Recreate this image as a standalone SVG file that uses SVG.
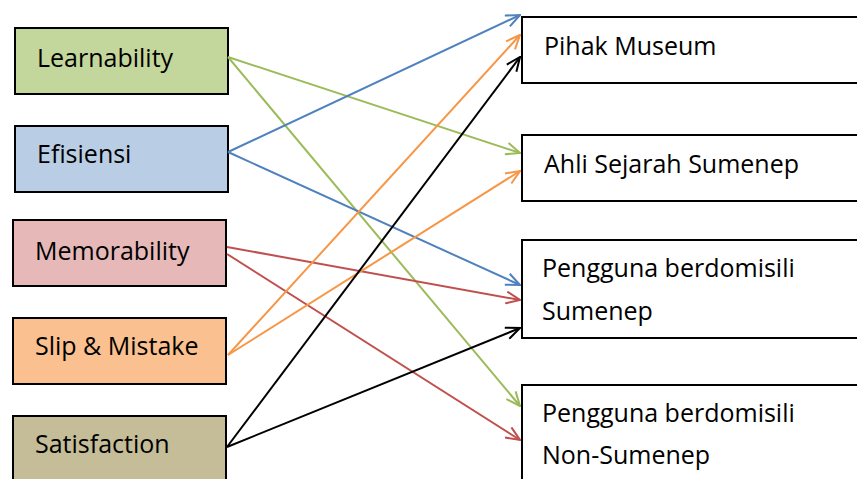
<svg xmlns="http://www.w3.org/2000/svg" width="857" height="479" viewBox="0 0 857 479">
<style>
.box{stroke:#000;stroke-width:2}
.t{font-family:"Open Sans","Noto Sans",sans-serif;font-size:25px;fill:#000}
.c{fill:none;stroke-width:2}
</style>
<defs>
<marker id="ag" markerUnits="userSpaceOnUse" viewBox="0 0 16 14" refX="15" refY="7" markerWidth="16" markerHeight="14" orient="auto"><path d="M1,1 L15,7 L1,13" fill="none" stroke="#9BBB59" stroke-width="2"/></marker>
<marker id="ab" markerUnits="userSpaceOnUse" viewBox="0 0 16 14" refX="15" refY="7" markerWidth="16" markerHeight="14" orient="auto"><path d="M1,1 L15,7 L1,13" fill="none" stroke="#4F81BD" stroke-width="2"/></marker>
<marker id="ar" markerUnits="userSpaceOnUse" viewBox="0 0 16 14" refX="15" refY="7" markerWidth="16" markerHeight="14" orient="auto"><path d="M1,1 L15,7 L1,13" fill="none" stroke="#C0504D" stroke-width="2"/></marker>
<marker id="ao" markerUnits="userSpaceOnUse" viewBox="0 0 16 14" refX="15" refY="7" markerWidth="16" markerHeight="14" orient="auto"><path d="M1,1 L15,7 L1,13" fill="none" stroke="#F79646" stroke-width="2"/></marker>
<marker id="ak" markerUnits="userSpaceOnUse" viewBox="0 0 16 14" refX="15" refY="7" markerWidth="16" markerHeight="14" orient="auto"><path d="M1,1 L15,7 L1,13" fill="none" stroke="#000" stroke-width="2"/></marker>
</defs>
<g id="learnability"><rect class="box" x="15" y="28" width="213" height="66" fill="#C3D69B"/><text class="t" x="37" y="67">Learnability</text></g>
<g id="efisiensi"><rect class="box" x="15" y="126" width="213" height="66" fill="#B9CDE5"/><text class="t" x="37" y="163">Efisiensi</text></g>
<g id="memorability"><rect class="box" x="13" y="220" width="213" height="66" fill="#E6B9B8"/><text class="t" x="35" y="260">Memorability</text></g>
<g id="slip"><rect class="box" x="13" y="318" width="213" height="66" fill="#FAC090"/><text class="t" x="35" y="355">Slip &amp; Mistake</text></g>
<g id="satisfaction"><rect class="box" x="13" y="416" width="213" height="70" fill="#C4BD97"/><text class="t" x="35" y="453">Satisfaction</text></g>
<g id="pihak"><rect class="box" x="522" y="17" width="345" height="66" fill="#fff"/><text class="t" x="544" y="55">Pihak Museum</text></g>
<g id="ahli"><rect class="box" x="522" y="135" width="345" height="66" fill="#fff"/><text class="t" x="544" y="173">Ahli Sejarah Sumenep</text></g>
<g id="sumenep"><rect class="box" x="522" y="240" width="345" height="98" fill="#fff"/><text class="t" x="542" y="277">Pengguna berdomisili</text><text class="t" x="542" y="320">Sumenep</text></g>
<g id="nonsumenep"><rect class="box" x="522" y="385" width="345" height="100" fill="#fff"/><text class="t" x="542" y="422">Pengguna berdomisili</text><text class="t" x="542" y="464">Non-Sumenep</text></g>
<g id="connectors">
<line class="c" stroke="#9BBB59" x1="228" y1="57" x2="520" y2="153" marker-end="url(#ag)"/>
<line class="c" stroke="#9BBB59" x1="228" y1="57" x2="520" y2="406" marker-end="url(#ag)"/>
<line class="c" stroke="#4F81BD" x1="228" y1="152" x2="520" y2="15" marker-end="url(#ab)"/>
<line class="c" stroke="#4F81BD" x1="228" y1="152" x2="520" y2="285" marker-end="url(#ab)"/>
<line class="c" stroke="#C0504D" x1="227" y1="247" x2="520" y2="300" marker-end="url(#ar)"/>
<line class="c" stroke="#C0504D" x1="227" y1="254" x2="520" y2="440" marker-end="url(#ar)"/>
<line class="c" stroke="#F79646" x1="228" y1="355" x2="520" y2="35" marker-end="url(#ao)"/>
<line class="c" stroke="#F79646" x1="228" y1="355" x2="520" y2="171" marker-end="url(#ao)"/>
<line class="c" stroke="#000" x1="227" y1="447" x2="520" y2="57" marker-end="url(#ak)"/>
<line class="c" stroke="#000" x1="227" y1="447" x2="520" y2="328" marker-end="url(#ak)"/>
</g>
</svg>
